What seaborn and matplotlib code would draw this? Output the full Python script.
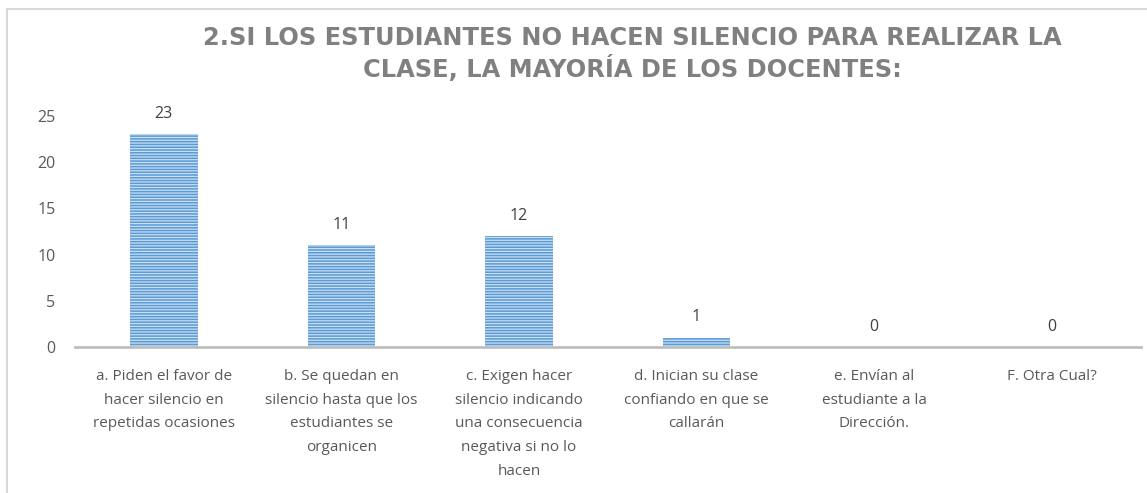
import matplotlib
matplotlib.use('Agg')
import matplotlib.pyplot as plt
import seaborn as sns
import pandas as pd
from matplotlib.patches import Rectangle

# ─── Chart data ──────────────────────────────────────────────────────────────
OPCIONES = [
    'a. Piden el favor de\nhacer silencio en\nrepetidas ocasiones',
    'b. Se quedan en\nsilencio hasta que los\nestudiantes se\norganicen',
    'c. Exigen hacer\nsilencio indicando\nuna consecuencia\nnegativa si no lo\nhacen',
    'd. Inician su clase\nconfiando en que se\ncallarán',
    'e. Envían al\nestudiante a la\nDirección.',
    'F. Otra Cual?',
]
RESPUESTAS = [23, 11, 12, 1, 0, 0]
Y_TICKS = [0, 5, 10, 15, 20, 25]
TITULO = '2.SI LOS ESTUDIANTES NO HACEN SILENCIO PARA REALIZAR LA\nCLASE, LA MAYORÍA DE LOS DOCENTES:'

df = pd.DataFrame({'opcion': OPCIONES, 'n': RESPUESTAS})

sns.set_style('white')
plt.rcParams['font.family'] = ['Open Sans', 'DejaVu Sans']
plt.rcParams['hatch.linewidth'] = 0.9

fig = plt.figure(figsize=(11.47, 4.93), dpi=100)
fig.patch.set_facecolor('white')

# chart frame (runs off the right and bottom of the crop)
fig.patches.append(Rectangle((7 / 1147, -0.2), 1.2, 1.2 - 9 / 493,
                             transform=fig.transFigure, fill=False,
                             edgecolor='#D9D9D9', linewidth=1.5))

ax = fig.add_axes([0.0654, 0.296, 0.929, 0.469])
sns.barplot(data=df, x='opcion', y='n', ax=ax, width=0.38,
            color='#5B9BD5', saturation=1)

for bar in ax.patches:
    bar.set_facecolor('#5B9BD5')
    bar.set_edgecolor('#C9DEF2')
    bar.set_linewidth(0)
    bar.set_hatch('------')

for bar, val in zip(ax.patches, RESPUESTAS):
    ax.annotate(f'{val}', (bar.get_x() + bar.get_width() / 2, bar.get_height()),
                xytext=(0, 9), textcoords='offset points', ha='center', va='bottom',
                fontsize=11.5, color='#404040')

ax.set_ylim(0, 25)
ax.set_yticks(Y_TICKS)
ax.set_xlim(-0.5, 5.5)
ax.set_xlabel('')
ax.set_ylabel('')
sns.despine(ax=ax, left=True, top=True, right=True)
ax.spines['bottom'].set_color('#BFBFBF')
ax.spines['bottom'].set_linewidth(2)
ax.tick_params(axis='both', length=0, colors='#595959', labelsize=11)
ax.tick_params(axis='y', pad=14, labelsize=11.5)
ax.tick_params(axis='x', pad=16)
for lbl in ax.get_xticklabels():
    lbl.set_linespacing(1.78)
ax.patch.set_alpha(0)

fig.text(0.551, 0.948, TITULO, ha='center', va='top', fontsize=17.4,
         fontweight='bold', color='#808080', linespacing=1.25,
         family=['DejaVu Sans'])

fig.savefig('out.png', dpi=100)
